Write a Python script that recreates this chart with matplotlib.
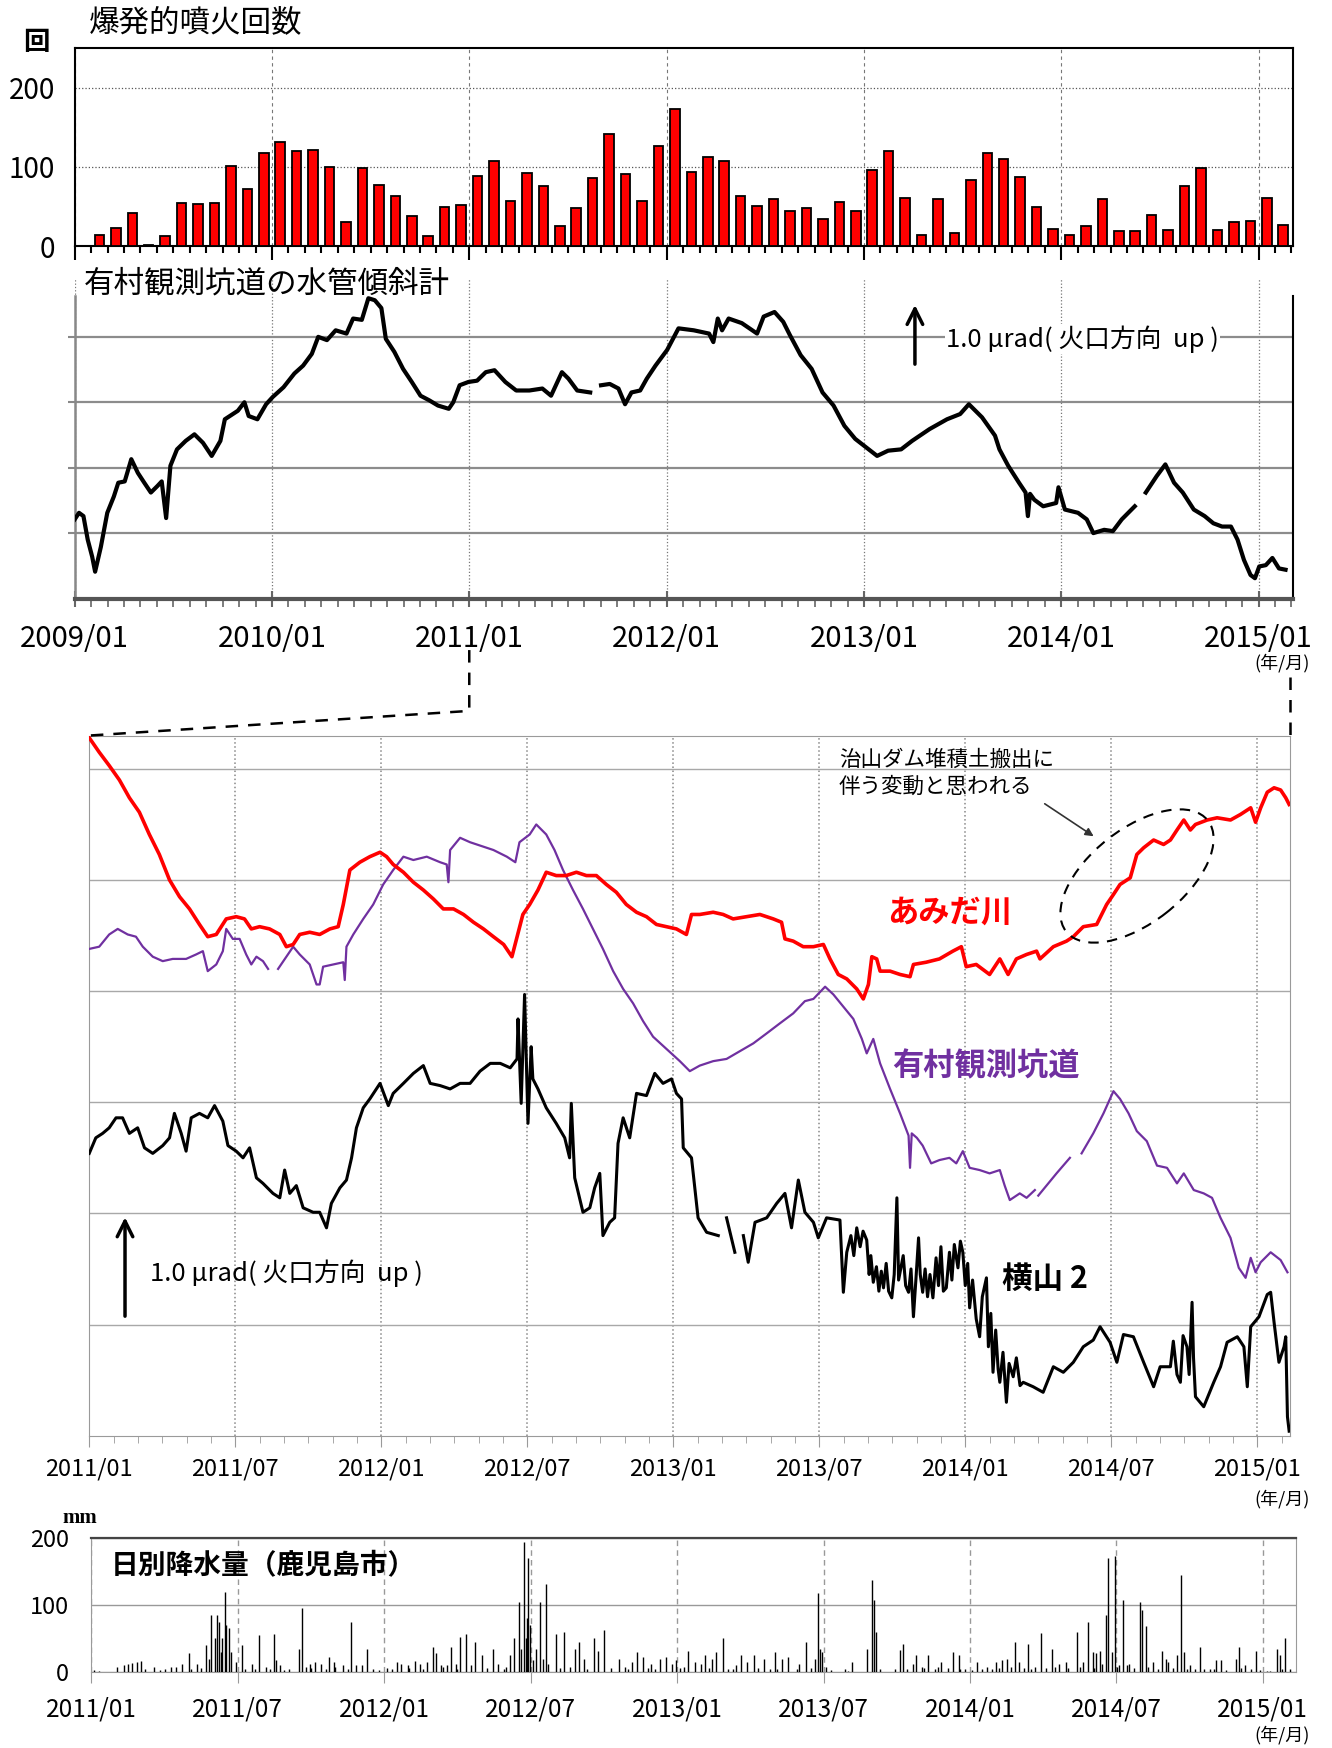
import numpy as np
import matplotlib
matplotlib.use('Agg')
import matplotlib.pyplot as plt
from matplotlib.patches import Ellipse
from matplotlib.lines import Line2D
from matplotlib.transforms import IdentityTransform

plt.rcParams['font.family'] = ['Noto Sans CJK JP', 'DejaVu Sans']

RED = '#FF0000'
PURPLE = '#7030A0'
GRID = '#9a9a9a'

# ── monthly explosive eruptions, 2009/01 .. 2015/02 ──────────
eruptions = [0, 14, 23, 42, 1, 13, 55, 53, 55, 101, 72, 117,
             131, 120, 121, 100, 31, 99, 77, 64, 38, 13, 50, 52,
             88, 108, 57, 92, 76, 25, 48, 86, 141, 91, 57, 126,
             173, 93, 112, 107, 64, 51, 60, 44, 48, 35, 56, 44,
             96, 120, 61, 14, 59, 17, 83, 118, 110, 87, 50, 22,
             14, 25, 60, 19, 19, 40, 20, 76, 99, 20, 30, 32,
             61, 27]
year_ticks = [0, 12, 24, 36, 48, 60, 72]
year_labels = ['2009/01', '2010/01', '2011/01', '2012/01', '2013/01', '2014/01', '2015/01']

# ── Arimura tunnel water-tube tiltmeter (months since 2009/01, grid units) ──
tilt_m = [0.00, 0.26, 0.53, 0.79, 1.06, 1.24, 1.59, 1.98, 2.38, 2.65,
          3.04, 3.44, 3.84, 4.23, 4.63, 5.03, 5.29, 5.56, 5.82, 6.22,
          6.75, 7.28, 7.80, 8.33, 8.86, 9.13, 9.92, 10.32, 10.58, 11.11,
          11.64, 12.04, 12.70, 13.36, 13.89, 14.42, 14.81, 15.34, 15.87, 16.53,
          16.93, 17.46, 17.86, 18.25, 18.65, 18.92, 19.44, 19.97, 20.50, 21.03,
          21.56, 22.09, 22.75, 23.02, 23.41, 23.94, 24.47, 25.00, 25.53, 26.19,
          26.85, 27.65, 28.44, 28.97, 29.63, 30.03, 30.56, 31.35, 31.70, 32.01,
          32.54, 33.07, 33.47, 33.86, 34.39, 34.79, 35.32, 36.03, 36.72, 37.65,
          38.58, 38.84, 39.11, 39.37, 39.77, 40.57, 41.50, 41.90, 42.56, 43.09,
          43.49, 44.15, 44.82, 45.48, 46.15, 46.81, 47.47, 48.14, 48.80, 49.47,
          50.26, 50.93, 51.99, 53.05, 53.85, 54.38, 55.18, 55.97, 56.24, 56.77,
          57.43, 57.83, 57.97, 58.10, 58.36, 58.90, 59.69, 59.83, 60.22, 61.02,
          61.55, 61.95, 62.61, 63.14, 63.68, 64.47, 64.80, 65.14, 65.80, 66.33,
          66.86, 67.39, 68.06, 68.72, 69.25, 69.78, 70.32, 70.72, 71.11, 71.51,
          71.78, 72.04, 72.44, 72.84, 73.24, 73.64]
tilt_v = [1.21, 1.31, 1.26, 0.90, 0.64, 0.41, 0.79, 1.31, 1.56, 1.77,
          1.79, 2.13, 1.92, 1.77, 1.62, 1.72, 1.79, 1.23, 2.03, 2.28,
          2.41, 2.51, 2.38, 2.18, 2.41, 2.74, 2.87, 3.00, 2.79, 2.74,
          2.97, 3.08, 3.23, 3.44, 3.56, 3.74, 4.00, 3.95, 4.10, 4.05,
          4.28, 4.26, 4.59, 4.56, 4.44, 3.97, 3.77, 3.51, 3.31, 3.10,
          3.03, 2.95, 2.90, 3.00, 3.26, 3.31, 3.33, 3.46, 3.49, 3.31,
          3.18, 3.18, 3.21, 3.10, 3.46, 3.36, 3.18, 3.15, np.nan, 3.26,
          3.28, 3.21, 2.97, 3.15, 3.18, 3.36, 3.56, 3.80, 4.13, 4.10,
          4.05, 3.92, 4.28, 4.10, 4.28, 4.21, 4.05, 4.31, 4.38, 4.23,
          4.03, 3.72, 3.51, 3.15, 2.95, 2.64, 2.44, 2.31, 2.18, 2.26,
          2.28, 2.41, 2.59, 2.74, 2.82, 2.97, 2.77, 2.49, 2.28, 2.03,
          1.77, 1.62, 1.26, 1.60, 1.51, 1.41, 1.46, 1.70, 1.36, 1.31,
          1.21, 1.00, 1.05, 1.03, 1.21, 1.41, np.nan, 1.62, 1.87, 2.05,
          1.77, 1.62, 1.36, 1.26, 1.15, 1.10, 1.10, 0.90, 0.59, 0.36,
          0.31, 0.49, 0.51, 0.62, 0.46, 0.44]

# ── enlarged panel, months since 2011/01, grid units ─────────
half_ticks = [0, 6, 12, 18, 24, 30, 36, 42, 48]
half_labels = ['2011/01', '2011/07', '2012/01', '2012/07', '2013/01',
               '2013/07', '2014/01', '2014/07', '2015/01']

amida_m = [0.00, 0.41, 0.82, 1.24, 1.65, 2.06, 2.47, 2.88, 3.30, 3.71,
           4.12, 4.53, 4.87, 5.22, 5.63, 6.04, 6.38, 6.66, 7.00, 7.41,
           7.83, 8.10, 8.38, 8.65, 9.06, 9.47, 9.89, 10.23, 10.44, 10.71,
           11.12, 11.53, 11.95, 12.22, 12.49, 12.91, 13.32, 13.73, 14.14, 14.55,
           14.97, 15.38, 15.79, 16.20, 16.61, 17.03, 17.37, 17.82, 18.10, 18.44,
           18.78, 19.19, 19.60, 20.02, 20.43, 20.84, 21.25, 21.66, 22.07, 22.49,
           22.90, 23.31, 23.72, 24.13, 24.54, 24.75, 25.09, 25.64, 26.05, 26.46,
           27.01, 27.56, 28.11, 28.45, 28.59, 28.93, 29.34, 29.76, 30.17, 30.44,
           30.78, 31.13, 31.54, 31.81, 32.02, 32.16, 32.36, 32.50, 32.91, 33.32,
           33.73, 33.87, 34.39, 34.94, 35.49, 35.84, 36.04, 36.45, 37.00, 37.42,
           37.76, 38.10, 38.52, 38.93, 39.07, 39.62, 40.16, 40.44, 40.85, 41.40,
           41.81, 42.09, 42.36, 42.78, 43.05, 43.33, 43.74, 44.15, 44.43, 44.70,
           44.98, 45.25, 45.46, 45.94, 46.35, 46.90, 47.31, 47.73, 47.93, 48.14,
           48.41, 48.69, 48.96, 49.17, 49.31]
amida_v = [6.28, 6.15, 6.03, 5.90, 5.74, 5.61, 5.41, 5.23, 5.00, 4.85,
           4.74, 4.60, 4.49, 4.51, 4.65, 4.67, 4.65, 4.56, 4.58, 4.56,
           4.51, 4.40, 4.42, 4.51, 4.53, 4.51, 4.56, 4.58, 4.78, 5.09,
           5.16, 5.21, 5.25, 5.21, 5.14, 5.07, 4.98, 4.91, 4.83, 4.74,
           4.74, 4.69, 4.62, 4.56, 4.49, 4.42, 4.31, 4.69, 4.78, 4.91,
           5.07, 5.04, 5.04, 5.07, 5.04, 5.04, 4.96, 4.89, 4.78, 4.71,
           4.67, 4.60, 4.58, 4.56, 4.51, 4.69, 4.69, 4.71, 4.69, 4.65,
           4.67, 4.69, 4.65, 4.62, 4.47, 4.45, 4.40, 4.40, 4.42, 4.29,
           4.15, 4.11, 4.02, 3.93, 4.06, 4.31, 4.29, 4.18, 4.18, 4.15,
           4.13, 4.24, 4.26, 4.29, 4.36, 4.40, 4.22, 4.24, 4.15, 4.29,
           4.15, 4.29, 4.33, 4.36, 4.29, 4.40, 4.45, 4.49, 4.58, 4.60,
           4.78, 4.87, 4.96, 5.02, 5.23, 5.29, 5.36, 5.32, 5.36, 5.45,
           5.54, 5.45, 5.50, 5.54, 5.56, 5.54, 5.59, 5.65, 5.52, 5.65,
           5.79, 5.83, 5.81, 5.74, 5.68]

arimura_m = [0.00, 0.41, 0.82, 1.17, 1.58, 1.92, 2.20, 2.61, 3.02, 3.43,
             3.98, 4.39, 4.67, 4.87, 5.22, 5.49, 5.63, 5.90, 6.18, 6.45,
             6.66, 6.87, 7.14, 7.35, 7.55, 7.76, 8.10, 8.38, 8.65, 9.06,
             9.34, 9.47, 9.61, 10.02, 10.44, 10.50, 10.57, 10.85, 11.26, 11.67,
             12.08, 12.49, 12.91, 13.32, 13.87, 14.42, 14.69, 14.76, 14.83, 15.24,
             15.65, 16.20, 16.61, 17.16, 17.51, 17.68, 18.10, 18.37, 18.78, 19.12,
             19.47, 19.88, 20.29, 20.70, 21.11, 21.53, 21.94, 22.35, 22.76, 23.17,
             23.72, 24.27, 24.68, 25.09, 25.64, 26.19, 26.74, 27.29, 27.84, 28.38,
             28.93, 29.41, 29.76, 30.24, 30.58, 30.99, 31.40, 31.75, 31.95, 32.22,
             32.50, 32.91, 33.32, 33.67, 33.73, 33.80, 34.01, 34.25, 34.60, 34.94,
             35.35, 35.63, 35.90, 36.18, 36.59, 37.00, 37.42, 37.62, 37.83, 38.24,
             38.52, 38.86, 38.93, 39.00, 39.34, 39.75, 40.30, 40.55, 40.78, 41.26,
             41.68, 42.09, 42.36, 42.71, 43.05, 43.46, 43.88, 44.29, 44.70, 44.98,
             45.39, 45.80, 46.14, 46.49, 46.90, 47.24, 47.52, 47.73, 47.93, 48.14,
             48.55, 48.96, 49.24]
arimura_v = [4.38, 4.40, 4.51, 4.56, 4.51, 4.49, 4.40, 4.31, 4.27, 4.29,
             4.29, 4.33, 4.36, 4.18, 4.24, 4.36, 4.56, 4.47, 4.47, 4.33,
             4.24, 4.31, 4.27, 4.20, np.nan, 4.20, 4.31, 4.40, 4.33, 4.24,
             4.06, 4.06, 4.22, 4.24, 4.26, 4.10, 4.40, 4.51, 4.65, 4.78,
             4.96, 5.09, 5.21, 5.18, 5.21, 5.16, 5.14, 4.98, 5.27, 5.38,
             5.34, 5.30, 5.27, 5.21, 5.16, 5.34, 5.41, 5.50, 5.41, 5.27,
             5.09, 4.91, 4.74, 4.56, 4.38, 4.18, 4.02, 3.89, 3.73, 3.59,
             3.48, 3.37, 3.28, 3.33, 3.37, 3.39, 3.46, 3.53, 3.62, 3.71,
             3.80, 3.91, 3.93, 4.04, 3.97, 3.86, 3.75, 3.57, 3.44, 3.57,
             3.35, 3.12, 2.90, 2.70, 2.41, 2.72, 2.68, 2.61, 2.45, 2.48,
             2.50, 2.45, 2.56, 2.41, 2.39, 2.36, 2.39, 2.25, 2.12, 2.18,
             2.14, 2.21, np.nan, 2.16, 2.25, 2.36, 2.50, np.nan, 2.54, 2.72,
             2.90, 3.10, 3.03, 2.90, 2.74, 2.65, 2.43, 2.41, 2.27, 2.36,
             2.21, 2.18, 2.14, 1.96, 1.78, 1.51, 1.42, 1.60, 1.47, 1.56,
             1.65, 1.58, 1.47]

yokoyama_m = [0.00, 0.27, 0.55, 0.82, 1.10, 1.37, 1.65, 1.99, 2.27, 2.61,
              3.02, 3.30, 3.50, 3.78, 3.98, 4.19, 4.53, 4.87, 5.15, 5.49,
              5.70, 6.04, 6.32, 6.59, 6.87, 7.14, 7.55, 7.83, 8.03, 8.24,
              8.51, 8.79, 9.20, 9.47, 9.75, 9.95, 10.30, 10.57, 10.78, 10.98,
              11.26, 11.53, 11.95, 12.29, 12.49, 12.91, 13.32, 13.73, 14.01, 14.42,
              14.83, 15.24, 15.65, 16.06, 16.48, 16.89, 17.30, 17.58, 17.62, 17.75,
              17.89, 18.03, 18.16, 18.23, 18.44, 18.78, 19.19, 19.54, 19.74, 19.81,
              19.95, 20.29, 20.57, 20.77, 20.98, 21.11, 21.39, 21.59, 21.73, 21.94,
              22.21, 22.49, 22.90, 23.24, 23.58, 23.93, 24.13, 24.34, 24.41, 24.75,
              25.02, 25.37, 25.85, 26.00, 26.19, 26.53, 26.70, 26.88, 27.08, 27.36,
              27.84, 28.25, 28.59, 28.86, 29.14, 29.41, 29.76, 29.96, 30.30, 30.85,
              30.99, 31.13, 31.30, 31.42, 31.54, 31.68, 31.80, 31.95, 32.05, 32.12,
              32.22, 32.35, 32.45, 32.55, 32.64, 32.75, 32.85, 32.98, 33.08, 33.19,
              33.26, 33.32, 33.45, 33.55, 33.67, 33.77, 33.87, 33.97, 34.08, 34.15,
              34.25, 34.35, 34.45, 34.55, 34.67, 34.80, 34.90, 35.00, 35.10, 35.22,
              35.35, 35.45, 35.55, 35.70, 35.80, 35.90, 36.00, 36.10, 36.18, 36.30,
              36.45, 36.59, 36.70, 36.87, 36.95, 37.05, 37.14, 37.25, 37.35, 37.42,
              37.55, 37.69, 37.80, 37.97, 38.10, 38.25, 38.38, 38.79, 39.20, 39.62,
              40.03, 40.44, 40.85, 41.26, 41.54, 41.95, 42.23, 42.50, 42.91, 43.33,
              43.74, 44.01, 44.43, 44.55, 44.70, 44.84, 44.95, 45.11, 45.20, 45.32,
              45.38, 45.46, 45.80, 46.21, 46.49, 46.76, 47.18, 47.45, 47.59, 47.73,
              48.07, 48.41, 48.55, 48.69, 48.89, 49.10, 49.17, 49.24, 49.31]
yokoyama_v = [2.54, 2.68, 2.72, 2.77, 2.86, 2.86, 2.72, 2.77, 2.59, 2.54,
              2.61, 2.68, 2.90, 2.72, 2.56, 2.86, 2.90, 2.86, 2.97, 2.83,
              2.61, 2.56, 2.50, 2.59, 2.32, 2.27, 2.18, 2.14, 2.39, 2.18,
              2.25, 2.05, 2.01, 2.01, 1.87, 2.09, 2.23, 2.30, 2.50, 2.77,
              2.95, 3.03, 3.17, 2.97, 3.08, 3.17, 3.26, 3.33, 3.17, 3.15,
              3.12, 3.17, 3.17, 3.28, 3.35, 3.35, 3.31, 3.39, 3.75, 2.99,
              3.97, 2.81, 3.50, 3.21, 3.12, 2.95, 2.81, 2.68, 2.50, 2.99,
              2.32, 2.01, 2.05, 2.23, 2.36, 1.80, 1.92, 1.96, 2.63, 2.86,
              2.68, 3.08, 3.06, 3.26, 3.17, 3.21, 3.08, 3.03, 2.59, 2.50,
              1.96, 1.83, 1.80, np.nan, 1.96, 1.65, np.nan, 1.80, 1.56, 1.92,
              1.96, 2.09, 2.18, 1.87, 2.30, 2.01, 1.92, 1.78, 1.96, 1.94,
              1.29, 1.65, 1.80, 1.62, 1.87, 1.70, 1.84, 1.76, 1.45, 1.62,
              1.38, 1.52, 1.30, 1.48, 1.33, 1.55, 1.30, 1.24, 1.45, 2.14,
              1.40, 1.47, 1.62, 1.35, 1.29, 1.50, 1.07, 1.40, 1.78, 1.45,
              1.29, 1.50, 1.25, 1.45, 1.24, 1.60, 1.35, 1.70, 1.30, 1.33,
              1.65, 1.40, 1.72, 1.51, 1.75, 1.65, 1.35, 1.55, 1.15, 1.40,
              1.05, 0.89, 1.25, 1.42, 0.80, 1.10, 0.57, 0.95, 0.60, 0.48,
              0.75, 0.30, 0.65, 0.53, 0.70, 0.45, 0.48, 0.44, 0.39, 0.62,
              0.57, 0.66, 0.80, 0.86, 0.98, 0.84, 0.66, 0.91, 0.89, 0.66,
              0.44, 0.62, 0.62, 0.85, 0.55, 0.48, 0.90, 0.80, 0.55, 1.20,
              0.70, 0.35, 0.26, 0.48, 0.62, 0.84, 0.89, 0.80, 0.44, 0.98,
              1.07, 1.27, 1.29, 1.02, 0.66, 0.80, 0.89, 0.17, 0.04]

# ── daily rainfall, Kagoshima city (months since 2011/01, mm) ──
rain_m = [1.05, 1.32, 1.49, 1.67, 1.85, 2.03, 2.21, 2.56, 3.27, 3.45,
          3.72, 3.99, 4.34, 4.70, 4.91, 5.05, 5.14, 5.23, 5.32, 5.37,
          5.46, 5.53, 5.62, 5.71, 5.94, 6.17, 6.57, 6.87, 7.14, 7.49,
          7.58, 7.72, 8.52, 8.65, 8.79, 8.97, 9.15, 9.41, 9.72, 9.95,
          10.30, 10.62, 10.84, 11.10, 11.28, 11.55, 12.53, 12.70, 12.97, 13.24,
          13.47, 13.77, 13.99, 14.13, 14.31, 14.57, 14.75, 14.93, 15.11, 15.37,
          15.55, 15.73, 16.00, 16.44, 16.67, 17.15, 17.33, 17.51, 17.60, 17.72,
          17.81, 17.86, 17.90, 17.99, 18.10, 18.22, 18.40, 18.49, 18.63, 18.72,
          19.02, 19.38, 19.82, 19.96, 20.18, 20.59, 20.77, 21.01, 21.60, 21.87,
          22.14, 22.37, 22.62, 22.94, 23.29, 23.56, 23.79, 23.95, 24.45, 24.72,
          24.98, 25.16, 25.43, 25.61, 25.88, 26.42, 26.63, 26.86, 27.13, 27.58,
          27.99, 28.29, 28.56, 29.01, 29.28, 29.64, 29.76, 29.85, 29.94, 30.08,
          30.89, 31.16, 31.78, 32.00, 32.07, 32.14, 32.94, 33.12, 33.25, 33.66,
          33.79, 34.02, 34.29, 34.55, 34.82, 35.31, 35.57, 35.81, 36.29, 36.70,
          37.06, 37.33, 37.51, 37.86, 38.01, 38.36, 38.67, 38.90, 39.38, 39.65,
          39.92, 40.37, 40.64, 40.82, 41.05, 41.17, 41.32, 41.57, 41.67, 41.80,
          41.93, 42.03, 42.28, 42.43, 42.52, 42.96, 43.05, 43.23, 43.50, 43.86,
          44.04, 44.13, 44.48, 44.63, 44.75, 45.02, 45.41, 45.83, 46.09, 46.27,
          46.90, 47.02, 47.26, 47.70, 48.15, 48.56, 48.72, 48.92,
          0.10, 0.30, 2.80, 3.00, 4.10, 4.50, 4.80, 6.30, 6.70, 7.30,
          7.90, 8.10, 9.00, 9.60, 10.00, 10.50, 11.80, 12.10, 12.30, 13.00,
          13.60, 14.40, 15.00, 16.20, 16.90, 17.00, 19.20, 19.60, 20.30, 21.30,
          22.00, 22.80, 23.10, 24.10, 24.30, 25.30, 26.10, 26.30, 27.30, 27.80,
          28.10, 28.90, 29.50, 30.30, 31.00, 32.30, 33.40, 34.10, 34.70, 35.10,
          35.60, 36.10, 36.50, 36.90, 37.20, 37.70, 38.20, 38.50, 39.10, 39.50,
          40.00, 40.50, 41.10, 41.40, 42.10, 42.70, 43.30, 43.70, 44.30, 44.90,
          45.20, 45.60, 46.00, 46.50, 47.10, 47.50, 47.90, 48.30, 48.80, 49.10]
rain_mm = [8, 10, 12, 13, 15, 17, 5, 8, 7, 8,
           12, 28, 12, 40, 85, 50, 85, 75, 30, 50,
           120, 70, 65, 30, 15, 40, 12, 55, 8, 57,
           18, 10, 35, 95, 8, 12, 15, 12, 22, 15,
           10, 75, 10, 10, 35, 5, 15, 12, 10, 17,
           12, 15, 38, 28, 10, 10, 38, 12, 52, 57,
           10, 45, 25, 35, 12, 25, 50, 105, 35, 195,
           50, 80, 170, 70, 18, 35, 105, 20, 132, 12,
           57, 60, 35, 45, 20, 50, 32, 62, 20, 8,
           15, 30, 22, 12, 20, 22, 12, 18, 32, 15,
           12, 25, 20, 30, 50, 10, 25, 15, 25, 20,
           30, 20, 22, 12, 45, 20, 118, 35, 30, 8,
           4, 15, 35, 138, 108, 60, 4, 33, 42, 12,
           25, 8, 25, 5, 15, 30, 25, 5, 15, 8,
           15, 18, 20, 45, 15, 42, 8, 58, 35, 12,
           15, 60, 15, 75, 30, 28, 32, 85, 170, 30,
           173, 8, 108, 10, 12, 105, 92, 68, 15, 32,
           20, 15, 25, 145, 30, 10, 38, 4, 18, 18,
           20, 37, 10, 32, 2, 35, 25, 50,
           3, 2, 3, 4, 5, 6, 20, 5, 4, 5,
           3, 4, 6, 4, 7, 5, 3, 6, 4, 6,
           5, 7, 5, 6, 5, 8, 6, 8, 5, 6,
           4, 6, 5, 6, 8, 6, 4, 5, 6, 4,
           5, 4, 6, 3, 2, 5, 5, 6, 8, 6,
           4, 3, 5, 4, 6, 7, 6, 5, 6, 8,
           6, 8, 6, 12, 10, 6, 8, 5, 6, 5,
           4, 5, 4, 3, 6, 4, 3, 2, 4, 5]

# ── figure ───────────────────────────────────────────────────
fig = plt.figure(figsize=(13.32, 17.48), dpi=100, facecolor='white')

# top: eruption counts
ax1 = fig.add_axes([0.0561, 0.8591, 0.9147, 0.1135])
ax1.bar(np.arange(len(eruptions)) + 0.5, eruptions, width=0.58,
        color=RED, edgecolor='black', linewidth=1.3, zorder=3)
ax1.set_xlim(0, 74.1)
ax1.set_ylim(0, 250)
ax1.set_yticks([0, 100, 200])
ax1.tick_params(axis='y', length=0, pad=14, labelsize=20)
ax1.set_xticks(year_ticks)
ax1.set_xticklabels([])
ax1.set_xticks(np.arange(0, 75, 1), minor=True)
ax1.tick_params(axis='x', which='major', direction='out', length=10, width=1.5)
ax1.tick_params(axis='x', which='minor', direction='out', length=5, width=1.5)
ax1.yaxis.grid(True, ls=':', color='#555', lw=0.9)
ax1.xaxis.grid(True, ls=(0, (3, 3)), color='#777', lw=0.8)
for s in ax1.spines.values():
    s.set_linewidth(1.5)
fig.text(0.0669, 0.9872, '爆発的噴火回数', fontsize=22, va='center', ha='left')
fig.text(0.0276, 0.9757, '回', fontsize=19, fontweight='bold', va='center', ha='center')

# tiltmeter 2009-2015
ax2 = fig.add_axes([0.0561, 0.6576, 0.9147, 0.1830])
ax2.plot(tilt_m, tilt_v, color='black', lw=3.0, zorder=3)
ax2.set_xlim(0, 74.1)
ax2.set_ylim(0, 4.89)
ax2.set_yticks([1, 2, 3, 4])
ax2.set_yticklabels([])
ax2.tick_params(axis='y', direction='out', length=5, color='#888', width=1.5)
ax2.yaxis.grid(True, ls='-', color='#8c8c8c', lw=1.6)
ax2.set_xticks(year_ticks)
ax2.set_xticklabels(year_labels, fontsize=21)
ax2.set_xticks(np.arange(0, 75, 1), minor=True)
ax2.tick_params(axis='x', which='major', direction='inout', length=12, width=1.5,
                color='#666', pad=12)
ax2.tick_params(axis='x', which='minor', direction='out', length=6, width=1.2, color='#666')
ax2.xaxis.grid(True, ls=':', color='#777', lw=0.9)
ax2.spines['top'].set_visible(False)
ax2.spines['left'].set_bounds(0, 4.63)
ax2.spines['left'].set_color('#888')
ax2.spines['left'].set_linewidth(1.8)
ax2.spines['right'].set_bounds(0, 4.63)
ax2.spines['right'].set_linewidth(1.5)
ax2.spines['bottom'].set_color('#555')
ax2.spines['bottom'].set_linewidth(3)
ax2.annotate('', xy=(51.1, 4.53), xytext=(51.1, 3.54),
             arrowprops=dict(arrowstyle='->', lw=2.5, color='black', mutation_scale=28))
ax2.text(53.0, 3.97, '1.0 μrad( 火口方向  up )', fontsize=18.5, va='center', ha='left',
         bbox=dict(facecolor='white', edgecolor='none', pad=1), zorder=4)
fig.text(0.0628, 0.8374, '有村観測坑道の水管傾斜計', fontsize=22, va='center', ha='left')
fig.text(0.9623, 0.6206, '(年/月)', fontsize=13, va='center', ha='center')

# enlarged 2011-2015 panel
ax3 = fig.add_axes([0.0670, 0.1787, 0.9012, 0.4005])
ax3.plot(yokoyama_m, yokoyama_v, color='black', lw=2.2, zorder=3)
ax3.plot(arimura_m, arimura_v, color=PURPLE, lw=1.6, zorder=3)
ax3.plot(amida_m, amida_v, color=RED, lw=2.6, zorder=3)
ax3.set_xlim(0, 49.33)
ax3.set_ylim(0, 6.3)
ax3.set_yticks([1, 2, 3, 4, 5, 6])
ax3.set_yticklabels([])
ax3.tick_params(axis='y', length=0)
ax3.yaxis.grid(True, ls='-', color='#a8a8a8', lw=1.0)
ax3.set_xticks(half_ticks)
ax3.set_xticklabels(half_labels, fontsize=17)
ax3.set_xticks(np.arange(0, 50, 1), minor=True)
ax3.tick_params(axis='x', which='major', direction='out', length=8, color=GRID, pad=8)
ax3.tick_params(axis='x', which='minor', direction='out', length=5, color=GRID)
ax3.xaxis.grid(True, ls=':', color='#888', lw=1.1)
for s in ax3.spines.values():
    s.set_color(GRID)
ax3.text(32.8, 4.71, 'あみだ川', color=RED, fontsize=22.5, fontweight='bold',
         va='center', ha='left')
ax3.text(33.0, 3.32, '有村観測坑道', color=PURPLE, fontsize=22.5, fontweight='bold',
         va='center', ha='left')
ax3.text(37.5, 1.41, '横山 2', color='black', fontsize=22, fontweight='bold',
         va='center', ha='left')
ax3.text(30.8, 5.96, '治山ダム堆積土搬出に\n伴う変動と思われる', fontsize=15.5,
         va='center', ha='left', linespacing=1.25)
ax3.annotate('', xy=(41.37, 5.38), xytext=(39.17, 5.70),
             arrowprops=dict(arrowstyle='-|>', color='#333', lw=1.2, mutation_scale=12))
ax3.annotate('', xy=(1.47, 1.99), xytext=(1.47, 1.05),
             arrowprops=dict(arrowstyle='->', lw=2.5, color='black', mutation_scale=28))
ax3.text(2.5, 1.46, '1.0 μrad( 火口方向  up )', fontsize=18.5, va='center', ha='left')
fig.add_artist(Ellipse((1137, 872), 180, 94, angle=38, fill=False, ls=(0, (5, 4)),
                       lw=1.5, color='black', transform=IdentityTransform()))
fig.text(0.9623, 0.1424, '(年/月)', fontsize=13, va='center', ha='center')

# zoom connector lines
fig.add_artist(Line2D([0.3523, 0.3523, 0.0670], [0.6281, 0.5933, 0.5792],
                      transform=fig.transFigure, color='black', lw=1.8, ls=(0, (5, 4))))
fig.add_artist(Line2D([0.9682, 0.9682], [0.6127, 0.5792],
                      transform=fig.transFigure, color='black', lw=1.8, ls=(0, (5, 4))))

# daily rainfall
ax4 = fig.add_axes([0.0686, 0.04353, 0.9046, 0.0765])
ax4.vlines(rain_m, 0, rain_mm, color='black', lw=1.0, zorder=3)
ax4.set_xlim(0, 49.37)
ax4.set_ylim(0, 200)
ax4.set_yticks([0, 100, 200])
ax4.tick_params(axis='y', length=0, pad=16, labelsize=17)
ax4.yaxis.grid(True, ls='-', color='#999', lw=1.0)
ax4.set_xticks(half_ticks)
ax4.set_xticklabels(half_labels, fontsize=17.5)
ax4.tick_params(axis='x', direction='out', length=8, color=GRID, pad=10)
ax4.xaxis.grid(True, ls=(0, (4, 3)), color='#999', lw=1.0)
for s in ax4.spines.values():
    s.set_color(GRID)
ax4.spines['top'].set_color('#444')
ax4.spines['top'].set_linewidth(1.6)
ax4.text(0.8, 158, '日別降水量（鹿児島市）', fontsize=20, fontweight='bold',
         va='center', ha='left')
fig.text(0.0465, 0.1316, 'mm', fontsize=15, fontweight='bold', family='Liberation Serif',
         va='center', ha='left')
fig.text(0.9623, 0.0072, '(年/月)', fontsize=13, va='center', ha='center')

fig.savefig('out.png', dpi=100, facecolor='white')
